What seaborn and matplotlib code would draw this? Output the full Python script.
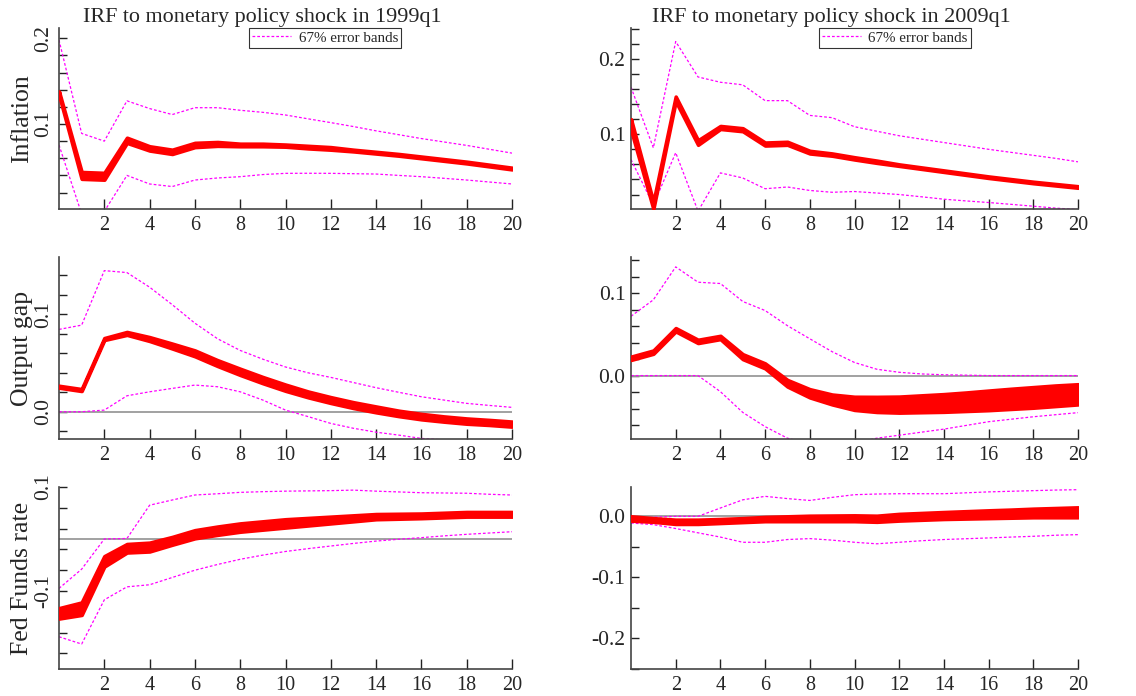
import seaborn as sns
import matplotlib.pyplot as plt
import matplotlib.ticker as mticker
from matplotlib.lines import Line2D
import numpy as np

# horizons 0..20
steps = np.arange(21)

titles = ['IRF to monetary policy shock in 1999q1', 'IRF to monetary policy shock in 2009q1']
row_labels = ['Inflation', 'Output gap', 'Fed Funds rate']
legend_label = '67% error bands'

# ---- Inflation ----
inf99_med_hi = [0.138, 0.044, 0.043, 0.084, 0.074, 0.070, 0.078, 0.079, 0.077, 0.077, 0.076,
                0.0745, 0.073, 0.070, 0.0675, 0.065, 0.062, 0.059, 0.056, 0.0525, 0.049]
inf99_med_lo = [0.134, 0.036, 0.035, 0.078, 0.069, 0.065, 0.073, 0.0745, 0.074, 0.074, 0.0735,
                0.0715, 0.070, 0.068, 0.0655, 0.063, 0.060, 0.057, 0.054, 0.0505, 0.047]
inf99_err_hi = [0.198, 0.089, 0.080, 0.127, 0.118, 0.111, 0.119, 0.119, 0.116, 0.1136, 0.1105,
                0.106, 0.1016, 0.097, 0.092, 0.0875, 0.083, 0.079, 0.075, 0.0705, 0.066]
inf99_err_lo = [0.0755, -0.005, -0.002, 0.040, 0.030, 0.027, 0.0346, 0.037, 0.0385, 0.041, 0.0424,
                0.0425, 0.0424, 0.042, 0.0416, 0.040, 0.0385, 0.0366, 0.0346, 0.0323, 0.030]

inf09_med_hi = [0.120, 0.010, 0.150, 0.092, 0.111, 0.108, 0.089, 0.090, 0.078, 0.0745, 0.0695,
                0.065, 0.060, 0.056, 0.052, 0.048, 0.044, 0.0405, 0.037, 0.034, 0.031]
inf09_med_lo = [0.106, 0.001, 0.144, 0.086, 0.107, 0.104, 0.085, 0.086, 0.0745, 0.0715, 0.0665,
                0.062, 0.058, 0.054, 0.050, 0.046, 0.042, 0.0385, 0.035, 0.032, 0.029]
inf09_err_hi = [0.1625, 0.082, 0.223, 0.176, 0.169, 0.1656, 0.1446, 0.1446, 0.125, 0.122, 0.110,
                0.104, 0.098, 0.0935, 0.089, 0.0845, 0.080, 0.076, 0.072, 0.068, 0.0634]
inf09_err_lo = [0.0665, 0.006, 0.0755, -0.002, 0.0487, 0.042, 0.0277, 0.030, 0.0254, 0.023, 0.024,
                0.022, 0.020, 0.017, 0.0138, 0.0115, 0.0094, 0.007, 0.0045, 0.002, 0.000]

# ---- Output gap ----
gap99_med_hi = [0.0267, 0.0233, 0.0757, 0.0820, 0.0767, 0.0700, 0.0630, 0.0530, 0.0442, 0.0357, 0.0279,
                0.0208, 0.0150, 0.0098, 0.0054, 0.0011, -0.0022, -0.0048, -0.0069, -0.0084, -0.0101]
gap99_med_lo = [0.0247, 0.0213, 0.0737, 0.0790, 0.0727, 0.0650, 0.0570, 0.0470, 0.0378, 0.0293, 0.0215,
                0.0148, 0.0090, 0.0038, -0.0006, -0.0045, -0.0078, -0.0102, -0.0123, -0.0136, -0.0153]
gap99_err_hi = [0.0846, 0.089, 0.145, 0.143, 0.128, 0.110, 0.091, 0.075, 0.063, 0.054, 0.046,
                0.040, 0.0353, 0.030, 0.0247, 0.020, 0.0154, 0.012, 0.0086, 0.0065, 0.0045]
gap99_err_lo = [0.0, 0.0, 0.0017, 0.0164, 0.0205, 0.024, 0.0274, 0.0257, 0.0205, 0.012, 0.0017,
                -0.005, -0.012, -0.017, -0.021, -0.024, -0.0274, -0.029, -0.031, -0.032, -0.033]

gap09_med_hi = [0.023, 0.0305, 0.0577, 0.0435, 0.0483, 0.026, 0.0148, -0.0053, -0.0165, -0.023, -0.0257,
                -0.0258, -0.0255, -0.024, -0.0225, -0.0205, -0.0182, -0.016, -0.014, -0.012, -0.0105]
gap09_med_lo = [0.019, 0.0265, 0.0537, 0.0395, 0.0443, 0.020, 0.0088, -0.0133, -0.0265, -0.035, -0.0417,
                -0.0442, -0.0450, -0.0445, -0.0440, -0.0430, -0.0420, -0.0405, -0.0390, -0.0370, -0.0350]
gap09_err_hi = [0.072, 0.092, 0.132, 0.1134, 0.1118, 0.090, 0.079, 0.0606, 0.0447, 0.029, 0.0159,
                0.0077, 0.004, 0.002, 0.001, 0.0005, 0.0, 0.0, 0.0, 0.0, 0.0]
gap09_err_lo = [0.0, 0.0, 0.0, 0.0, -0.0195, -0.0447, -0.062, -0.076, -0.083, -0.087, -0.082,
                -0.076, -0.0724, -0.0687, -0.065, -0.0605, -0.056, -0.053, -0.050, -0.0475, -0.045]

# ---- Fed Funds rate ----
ffr99_med_hi = [-0.133, -0.122, -0.033, -0.0096, -0.007, 0.004, 0.017, 0.024, 0.030, 0.034, 0.038,
                0.0405, 0.043, 0.0455, 0.048, 0.0485, 0.049, 0.0505, 0.052, 0.052, 0.052]
ffr99_med_lo = [-0.153, -0.146, -0.053, -0.026, -0.024, -0.011, 0.0013, 0.008, 0.014, 0.018, 0.022,
                0.026, 0.030, 0.034, 0.038, 0.039, 0.040, 0.0415, 0.043, 0.043, 0.043]
ffr99_err_hi = [-0.095, -0.058, 0.0, 0.001, 0.065, 0.075, 0.0846, 0.087, 0.0897, 0.091, 0.092,
                0.0925, 0.093, 0.094, 0.092, 0.0905, 0.089, 0.0885, 0.088, 0.086, 0.0846]
ffr99_err_lo = [-0.188, -0.202, -0.117, -0.092, -0.088, -0.074, -0.060, -0.049, -0.039, -0.031, -0.024,
                -0.0185, -0.0135, -0.0085, -0.004, -0.0005, 0.0026, 0.006, 0.009, 0.0115, 0.014]

ffr09_med_hi = [0.0, -0.003, -0.0055, -0.0055, -0.0044, -0.003, -0.001, 0.0, 0.001, 0.0013, 0.0016,
                0.001, 0.004, 0.0055, 0.007, 0.0084, 0.0098, 0.011, 0.0125, 0.0136, 0.0147]
ffr09_med_lo = [-0.007, -0.009, -0.0125, -0.0125, -0.011, -0.0095, -0.008, -0.008, -0.008, -0.008, -0.008,
                -0.009, -0.007, -0.0057, -0.0044, -0.0037, -0.003, -0.0023, -0.0016, -0.0016, -0.0016]
ffr09_err_hi = [-0.004, -0.0016, 0.0, 0.0, 0.0136, 0.027, 0.0327, 0.029, 0.026, 0.031, 0.0354,
                0.0365, 0.037, 0.037, 0.037, 0.0385, 0.040, 0.041, 0.042, 0.043, 0.0436]
ffr09_err_lo = [-0.011, -0.0136, -0.020, -0.027, -0.034, -0.0425, -0.0425, -0.038, -0.0365, -0.039, -0.0425,
                -0.045, -0.0425, -0.040, -0.038, -0.0367, -0.0354, -0.034, -0.0327, -0.031, -0.030]

panels = [
    [(inf99_med_lo, inf99_med_hi, inf99_err_lo, inf99_err_hi),
     (inf09_med_lo, inf09_med_hi, inf09_err_lo, inf09_err_hi)],
    [(gap99_med_lo, gap99_med_hi, gap99_err_lo, gap99_err_hi),
     (gap09_med_lo, gap09_med_hi, gap09_err_lo, gap09_err_hi)],
    [(ffr99_med_lo, ffr99_med_hi, ffr99_err_lo, ffr99_err_hi),
     (ffr09_med_lo, ffr09_med_hi, ffr09_err_lo, ffr09_err_hi)],
]

# axis limits / labelled ticks / minor tick step+offset per panel (row, col)
ylims = [[(0.0008, 0.212), (0.0008, 0.241)],
         [(-0.028, 0.159), (-0.077, 0.144)],
         [(-0.25, 0.1), (-0.25, 0.048)]]
major_ticks = [[[0.1, 0.2], [0.1, 0.2]],
               [[0.0, 0.1], [0.0, 0.1]],
               [[-0.1, 0.1], [-0.2, -0.1, 0.0]]]
minor_step = [[(0.02, 0.0), (0.02, 0.0)],
              [(0.02, 0.0), (0.02, 0.0)],
              [(0.04, 0.02), (0.05, 0.0)]]
zero_line = [False, True, True]

sns.set_style("ticks")
plt.rcParams['font.family'] = ['Liberation Serif', 'DejaVu Serif']
plt.rcParams['axes.unicode_minus'] = False

fig = plt.figure(figsize=(11.36, 6.96), dpi=100)
col_x = [(59, 453), (631, 447)]
row_y = [(28, 181), (257, 182), (487, 182)]
W, H = 1136, 696

red = '#ff0000'
mag = '#ff00ff'
dots = (0, (2.2, 1.6))

for r in range(3):
    for c in range(2):
        x0, w = col_x[c]
        top, h = row_y[r]
        ax = fig.add_axes([x0 / W, (H - top - h) / H, w / W, h / H])
        med_lo, med_hi, err_lo, err_hi = panels[r][c]

        if zero_line[r]:
            ax.axhline(0, color='#9a9a9a', lw=1.3, zorder=1)
        sns.lineplot(x=steps, y=err_hi, ax=ax, color=mag, lw=0.9, linestyle=dots, zorder=2)
        sns.lineplot(x=steps, y=err_lo, ax=ax, color=mag, lw=0.9, linestyle=dots, zorder=2)
        ax.fill_between(steps, med_lo, med_hi, color=red, edgecolor=red, lw=2.6, zorder=3)

        ax.set_xlim(0, 20)
        ax.set_ylim(*ylims[r][c])
        ax.set_xticks(np.arange(2, 21, 2))
        ax.yaxis.set_major_locator(mticker.FixedLocator(major_ticks[r][c]))
        step, off = minor_step[r][c]
        ax.yaxis.set_minor_locator(mticker.MultipleLocator(step, offset=off))
        ax.yaxis.set_major_formatter(mticker.FormatStrFormatter('%.1f'))
        ax.tick_params(axis='x', direction='in', length=7, width=1, color='#222222',
                       labelsize=14.5, pad=5)
        ax.tick_params(axis='y', which='both', direction='in', length=6, width=1,
                       color='#222222', labelsize=15.5, pad=4)
        if c == 0:
            for lab in ax.get_yticklabels():
                lab.set_rotation(90)
                lab.set_va('center')
            ax.set_ylabel(row_labels[r], fontsize=18.5)
            ax.yaxis.set_label_coords(-0.058, 0.5)
        else:
            ax.set_ylabel('')
        ax.set_xlabel('')
        sns.despine(ax=ax)
        for s in ['left', 'bottom']:
            ax.spines[s].set_color('#444444')
            ax.spines[s].set_linewidth(1.2)

        if r == 0:
            ax.set_title(titles[c], fontsize=15.9, x=0.448, pad=4)
            handle = Line2D([], [], color=mag, lw=0.9, linestyle=dots)
            leg = ax.legend([handle], [legend_label], loc='upper left',
                            bbox_to_anchor=(0.42, 1.0), borderaxespad=0,
                            fontsize=10.8, frameon=True, fancybox=False,
                            handlelength=2.6, borderpad=0.2, handletextpad=0.5)
            leg.get_frame().set_edgecolor('black')
            leg.get_frame().set_linewidth(0.8)

fig.savefig('out.png', dpi=100)
